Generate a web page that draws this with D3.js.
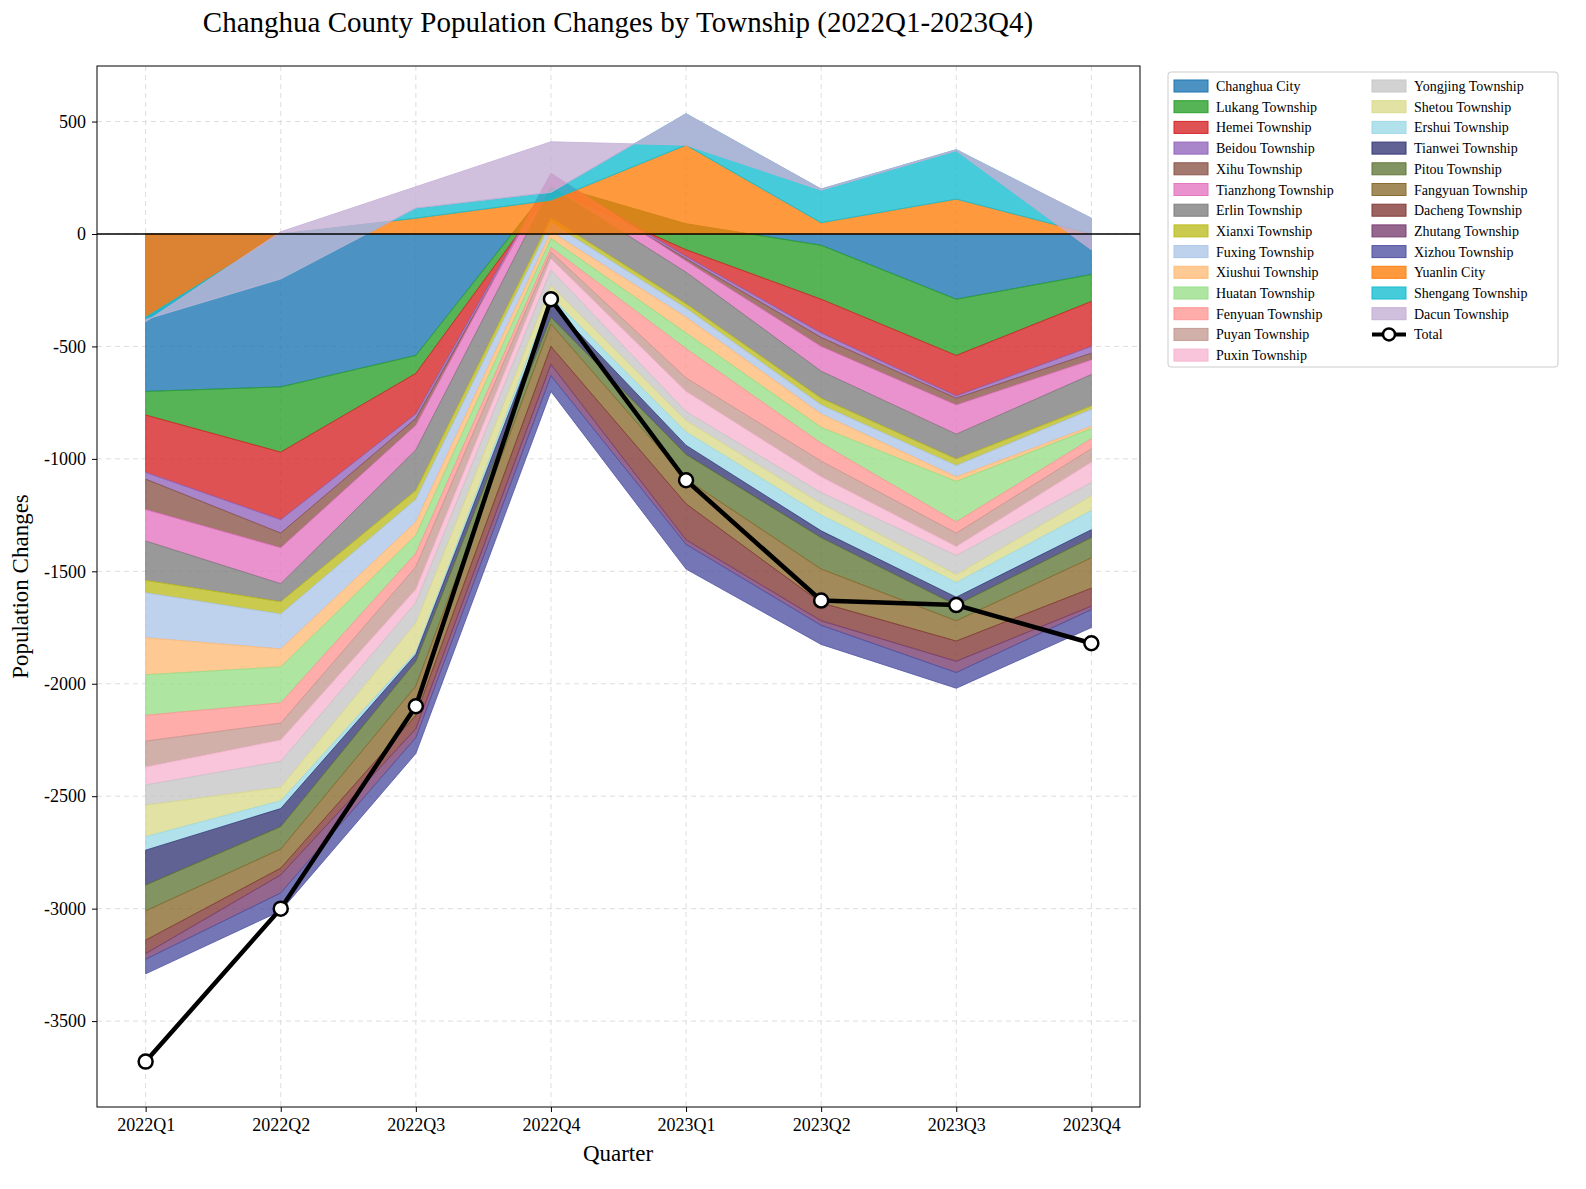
<!DOCTYPE html>
<html><head><meta charset="utf-8">
<script src="https://cdn.jsdelivr.net/npm/d3@7"></script>
<style>body{margin:0;background:#fff;font-family:"Liberation Serif","DejaVu Serif",serif}</style>
</head><body><svg id="c" width="1586" height="1189"></svg>
<script>
// quarters and per-township changes
var quarters = ['2022Q1','2022Q2','2022Q3','2022Q4','2023Q1','2023Q2','2023Q3','2023Q4'];
var mainNames = ['Changhua City','Lukang Township','Hemei Township','Beidou Township','Xihu Township','Tianzhong Township','Erlin Township','Xianxi Township','Fuxing Township','Xiushui Township','Huatan Township','Fenyuan Township','Puyan Township','Puxin Township','Yongjing Township','Shetou Township','Ershui Township','Tianwei Township','Pitou Township','Fangyuan Township','Dacheng Township','Zhutang Township','Xizhou Township'];
var mainColors = ['#1f77b4','#2ca02c','#d62728','#9467bd','#8c564b','#e377c2','#7f7f7f','#bcbd22','#aec7e8','#ffbb78','#98df8a','#ff9896','#c49c94','#f7b6d2','#c7c7c7','#dbdb8d','#9edae5','#393b79','#637939','#8c6d31','#843c39','#7b4173','#5254a3'];
// one row per quarter, columns follow mainNames
var mainValues = [
  [-700,-105,-255,-30,-135,-140,-175,-55,-200,-165,-180,-115,-115,-80,-90,-140,-60,-155,-115,-130,-60,-25,-65],
  [-680,-290,-300,-60,-65,-160,-80,-55,-155,-80,-160,-90,-75,-95,-115,-60,-35,-80,-100,-85,-30,-80,-80],
  [-540,-80,-180,-20,-30,-110,-180,-40,-100,-60,-80,-60,-100,-60,-90,-130,-10,-30,-110,-130,-60,-40,-70],
  [220,-20,60,-10,20,-60,-140,-20,-40,-30,-40,-20,-30,-50,-70,-50,-30,-60,-30,-100,-80,-50,-70],
  [45,-115,-30,-10,-10,-50,-140,-20,-40,-70,-70,-130,-60,-90,-40,-50,-60,-40,-110,-110,-160,-20,-110],
  [-50,-240,-150,-20,-40,-110,-120,-30,-40,-60,-70,-80,-70,-70,-50,-50,-70,-30,-140,-150,-80,-20,-85],
  [-290,-250,-180,-10,-30,-130,-110,-30,-50,-20,-180,-50,-60,-40,-85,-35,-65,-35,-70,-90,-90,-50,-70],
  [-180,-120,-200,-30,-30,-65,-140,-15,-75,-10,-45,-45,-60,-90,-60,-65,-85,-35,-90,-135,-80,-15,-80]
];
var extraNames = ['Yuanlin City','Shengang Township','Dacun Township'];
var extraColors = ['#ff7f0e','#17becf','#c5b0d5'];
var extraValues = [
  [-370,-10,-10],
  [0,-200,210],
  [70,45,95],
  [150,35,225],
  [395,140,-140],
  [50,150,-5],
  [155,220,-5],
  [0,70,-140]
];
var yTicks = [500,0,-500,-1000,-1500,-2000,-2500,-3000,-3500];

var svg = d3.select('#c');
var L = 97, R = 1140, T = 66, B = 1107;
var x = d3.scalePoint().domain(quarters).range([L, R]).padding(0.36);
var y = d3.scaleLinear().domain([747, -3882]).range([T, B]);

function rows(names, vals) {
  return quarters.map(function(q, i) {
    var r = {q: q};
    names.forEach(function(n, j) { r[n] = vals[i][j]; });
    return r;
  });
}
var mainRows = rows(mainNames, mainValues);
var extraRows = rows(extraNames, extraValues);
var totals = quarters.map(function(q, i) { return {q: q, v: d3.sum(mainValues[i]) + d3.sum(extraValues[i])}; });

// grid
svg.append('g').selectAll('line').data(yTicks).enter().append('line')
  .attr('x1', L).attr('x2', R).attr('y1', y).attr('y2', y)
  .attr('stroke', '#ddd').attr('stroke-dasharray', '5,4');
svg.append('g').selectAll('line').data(quarters).enter().append('line')
  .attr('y1', T).attr('y2', B).attr('x1', x).attr('x2', x)
  .attr('stroke', '#ddd').attr('stroke-dasharray', '5,4');

var area = d3.area().x(function(d) { return x(d.data.q); })
  .y0(function(d) { return y(d[0]); }).y1(function(d) { return y(d[1]); });

function drawStack(data, names, colors) {
  var st = d3.stack().keys(names).offset(d3.stackOffsetNone)(data);
  svg.append('g').selectAll('path').data(st).enter().append('path')
    .attr('d', area)
    .attr('fill', function(d, i) { return colors[i]; })
    .attr('fill-opacity', 0.8)
    .attr('stroke', function(d, i) { return colors[i]; })
    .attr('stroke-width', 0.8);
}
drawStack(mainRows, mainNames, mainColors);
drawStack(extraRows, extraNames, extraColors);

svg.append('line').attr('x1', L).attr('x2', R).attr('y1', y(0)).attr('y2', y(0))
  .attr('stroke', '#000').attr('stroke-width', 1.3);

var line = d3.line().x(function(d) { return x(d.q); }).y(function(d) { return y(d.v); });
svg.append('path').datum(totals).attr('d', line).attr('fill', 'none')
  .attr('stroke', '#000').attr('stroke-width', 4.5);
svg.append('g').selectAll('circle').data(totals).enter().append('circle')
  .attr('cx', function(d) { return x(d.q); }).attr('cy', function(d) { return y(d.v); })
  .attr('r', 7).attr('fill', '#fff').attr('stroke', '#000').attr('stroke-width', 2.5);

// frame and axes
svg.append('rect').attr('x', L).attr('y', T).attr('width', R - L).attr('height', B - T)
  .attr('fill', 'none').attr('stroke', '#000').attr('stroke-width', 1);
var ax = svg.append('g').attr('transform', 'translate(0,' + B + ')')
  .call(d3.axisBottom(x).tickSize(5).tickPadding(6));
var ay = svg.append('g').attr('transform', 'translate(' + L + ',0)')
  .call(d3.axisLeft(y).tickValues(yTicks).tickSize(5).tickPadding(6).tickFormat(function(d) { return String(d); }));
[ax, ay].forEach(function(a) {
  a.select('.domain').remove();
  a.selectAll('text').attr('font-size', 18).attr('font-family', 'Liberation Serif').attr('fill', '#000');
});

svg.append('text').attr('x', 618).attr('y', 32).attr('text-anchor', 'middle')
  .attr('font-size', 29).text('Changhua County Population Changes by Township (2022Q1-2023Q4)');
svg.append('text').attr('x', 618).attr('y', 1161).attr('text-anchor', 'middle')
  .attr('font-size', 23).text('Quarter');
svg.append('text').attr('transform', 'translate(28,' + ((T + B) / 2) + ') rotate(-90)')
  .attr('text-anchor', 'middle').attr('font-size', 23).text('Population Changes');

// legend
var legItems = mainNames.map(function(n, i) { return {n: n, c: mainColors[i]}; })
  .concat(extraNames.map(function(n, i) { return {n: n, c: extraColors[i]}; }));
legItems.push({n: 'Total', total: true});
var lg = svg.append('g').attr('transform', 'translate(1168,72)');
lg.append('rect').attr('width', 390).attr('height', 295).attr('rx', 3)
  .attr('fill', '#fff').attr('stroke', '#ccc');
var perCol = 14;
legItems.forEach(function(d, i) {
  var col = Math.floor(i / perCol), row = i % perCol;
  var g = lg.append('g').attr('transform', 'translate(' + (6 + col * 198) + ',' + (14 + row * 20.7) + ')');
  if (d.total) {
    g.append('line').attr('x1', 0).attr('x2', 34).attr('stroke', '#000').attr('stroke-width', 4);
    g.append('circle').attr('cx', 17).attr('r', 6).attr('fill', '#fff').attr('stroke', '#000').attr('stroke-width', 2.5);
  } else {
    g.append('rect').attr('y', -6).attr('width', 34).attr('height', 12)
      .attr('fill', d.c).attr('fill-opacity', 0.8).attr('stroke', d.c);
  }
  g.append('text').attr('x', 42).attr('y', 5).attr('font-size', 14).text(d.n);
});
</script></body></html>
